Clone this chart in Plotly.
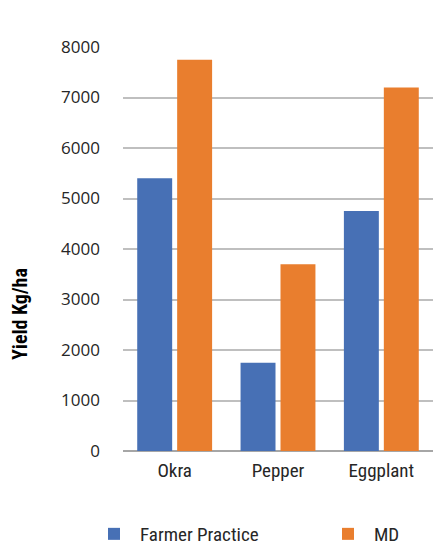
import plotly.graph_objects as go

# Crop yields (kg/ha) under two management regimes
crops = ["Okra", "Pepper", "Eggplant"]
farmer_practice = [5400, 1750, 4750]
md = [7750, 3700, 7200]
y_ticks = [0, 1000, 2000, 3000, 4000, 5000, 6000, 7000, 8000]

W, H = 433, 546
BLUE = "#4770b5"
ORANGE = "#e97e2e"
TEXT = "#262626"
COND = "Liberation Sans Narrow, Roboto Condensed, Roboto, sans-serif"

fig = go.Figure()
fig.add_trace(go.Bar(name="Farmer Practice", x=crops, y=farmer_practice,
                     marker=dict(color=BLUE, line=dict(width=0)), legend="legend"))
fig.add_trace(go.Bar(name="MD", x=crops, y=md,
                     marker=dict(color=ORANGE, line=dict(width=0)), legend="legend2"))

legend_style = dict(orientation="h", xref="container", yref="container",
                    xanchor="left", yanchor="top",
                    font=dict(family=COND, size=19, color=TEXT),
                    bgcolor="rgba(0,0,0,0)", itemwidth=42)

fig.update_layout(
    width=W, height=H,
    margin=dict(l=123, r=0, t=47, b=95),
    paper_bgcolor="white", plot_bgcolor="white",
    barmode="group", bargap=0.227, bargroupgap=0.125,
    font=dict(family="Open Sans, sans-serif", color=TEXT),
    xaxis=dict(showgrid=False, showline=False, ticks="",
               tickfont=dict(family=COND, size=19, color=TEXT),
               ticklabelstandoff=6),
    yaxis=dict(range=[0, 8000], tickvals=y_ticks,
               showgrid=True, gridcolor="#bfbfbf", gridwidth=1.5,
               zeroline=True, zerolinecolor="#a6a6a6", zerolinewidth=1.5,
               showline=False, ticks="",
               tickfont=dict(family="Open Sans, sans-serif", size=17, color=TEXT),
               ticklabelstandoff=22),
    showlegend=True,
    legend=dict(x=88 / W, y=(H - 515) / H, **legend_style),
    legend2=dict(x=322 / W, y=(H - 515) / H, **legend_style),
    annotations=[dict(text="<b>Yield Kg/ha</b>", textangle=-90,
                      xref="paper", yref="paper", x=-(123 - 20) / 310, y=(451 - 314) / 404,
                      xanchor="center", yanchor="middle", showarrow=False,
                      font=dict(family=COND, size=20, color="#000000"))],
)

fig.write_html("out.html")
